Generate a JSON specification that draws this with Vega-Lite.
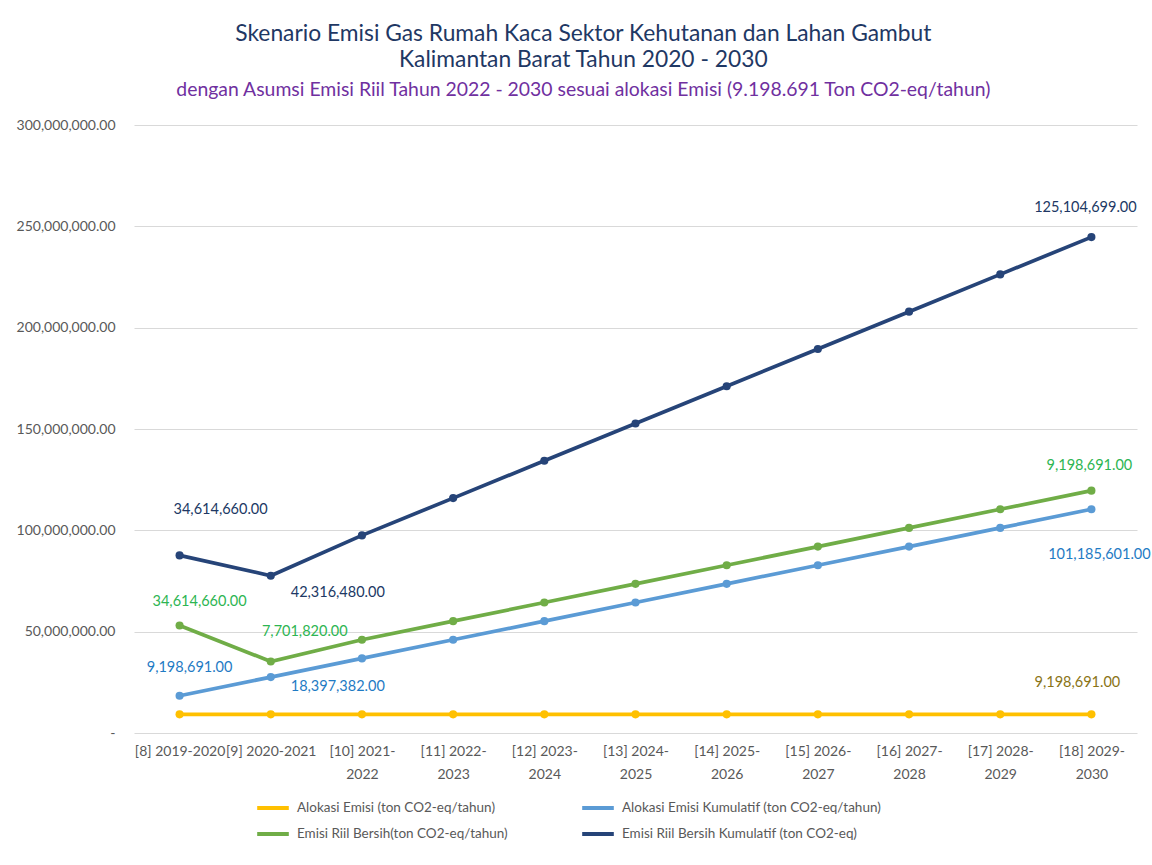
{
  "$schema": "https://vega.github.io/schema/vega-lite/v6.json",
  "width": 1003,
  "height": 608,
  "padding": {"left": 16, "top": 22, "right": 14, "bottom": 10},
  "background": "white",
  "title": {
    "text": ["Skenario Emisi Gas Rumah Kaca Sektor Kehutanan dan Lahan Gambut", "Kalimantan Barat Tahun 2020 - 2030"],
    "subtitle": "dengan Asumsi Emisi Riil Tahun 2022 - 2030 sesuai alokasi Emisi (9.198.691 Ton CO2-eq/tahun)",
    "font": "Lato",
    "fontSize": 22.8,
    "fontWeight": "normal",
    "color": "#1F3864",
    "lineHeight": 26,
    "subtitleFont": "Lato",
    "subtitleFontSize": 19.4,
    "subtitleColor": "#7030A0",
    "subtitlePadding": 9,
    "anchor": "middle",
    "frame": "bounds",
    "offset": 19
  },
  "config": {
    "view": {"stroke": null},
    "font": "Lato",
    "axis": {"labelFont": "Lato", "labelColor": "#595959", "labelFontSize": 14, "ticks": false, "domain": false, "title": null},
    "legend": {"labelFont": "Lato", "labelColor": "#595959", "labelFontSize": 13.5}
  },
  "data": {
    "values": [
      {"p": "[8] 2019-2020", "s": "Alokasi Emisi (ton CO2-eq/tahun)", "v": 9198691},
      {"p": "[9] 2020-2021", "s": "Alokasi Emisi (ton CO2-eq/tahun)", "v": 9198691},
      {"p": "[10] 2021-2022", "s": "Alokasi Emisi (ton CO2-eq/tahun)", "v": 9198691},
      {"p": "[11] 2022-2023", "s": "Alokasi Emisi (ton CO2-eq/tahun)", "v": 9198691},
      {"p": "[12] 2023-2024", "s": "Alokasi Emisi (ton CO2-eq/tahun)", "v": 9198691},
      {"p": "[13] 2024-2025", "s": "Alokasi Emisi (ton CO2-eq/tahun)", "v": 9198691},
      {"p": "[14] 2025-2026", "s": "Alokasi Emisi (ton CO2-eq/tahun)", "v": 9198691},
      {"p": "[15] 2026-2027", "s": "Alokasi Emisi (ton CO2-eq/tahun)", "v": 9198691},
      {"p": "[16] 2027-2028", "s": "Alokasi Emisi (ton CO2-eq/tahun)", "v": 9198691},
      {"p": "[17] 2028-2029", "s": "Alokasi Emisi (ton CO2-eq/tahun)", "v": 9198691},
      {"p": "[18] 2029-2030", "s": "Alokasi Emisi (ton CO2-eq/tahun)", "v": 9198691, "r": 9198691},
      {"p": "[8] 2019-2020", "s": "Alokasi Emisi Kumulatif (ton CO2-eq/tahun)", "v": 18397382, "r": 9198691},
      {"p": "[9] 2020-2021", "s": "Alokasi Emisi Kumulatif (ton CO2-eq/tahun)", "v": 27596073, "r": 18397382},
      {"p": "[10] 2021-2022", "s": "Alokasi Emisi Kumulatif (ton CO2-eq/tahun)", "v": 36794764},
      {"p": "[11] 2022-2023", "s": "Alokasi Emisi Kumulatif (ton CO2-eq/tahun)", "v": 45993455},
      {"p": "[12] 2023-2024", "s": "Alokasi Emisi Kumulatif (ton CO2-eq/tahun)", "v": 55192146},
      {"p": "[13] 2024-2025", "s": "Alokasi Emisi Kumulatif (ton CO2-eq/tahun)", "v": 64390837},
      {"p": "[14] 2025-2026", "s": "Alokasi Emisi Kumulatif (ton CO2-eq/tahun)", "v": 73589528},
      {"p": "[15] 2026-2027", "s": "Alokasi Emisi Kumulatif (ton CO2-eq/tahun)", "v": 82788219},
      {"p": "[16] 2027-2028", "s": "Alokasi Emisi Kumulatif (ton CO2-eq/tahun)", "v": 91986910},
      {"p": "[17] 2028-2029", "s": "Alokasi Emisi Kumulatif (ton CO2-eq/tahun)", "v": 101185601},
      {"p": "[18] 2029-2030", "s": "Alokasi Emisi Kumulatif (ton CO2-eq/tahun)", "v": 110384292, "r": 101185601},
      {"p": "[8] 2019-2020", "s": "Emisi Riil Bersih(ton CO2-eq/tahun)", "v": 53012042, "r": 34614660},
      {"p": "[9] 2020-2021", "s": "Emisi Riil Bersih(ton CO2-eq/tahun)", "v": 35297893, "r": 7701820},
      {"p": "[10] 2021-2022", "s": "Emisi Riil Bersih(ton CO2-eq/tahun)", "v": 45993455},
      {"p": "[11] 2022-2023", "s": "Emisi Riil Bersih(ton CO2-eq/tahun)", "v": 55192146},
      {"p": "[12] 2023-2024", "s": "Emisi Riil Bersih(ton CO2-eq/tahun)", "v": 64390837},
      {"p": "[13] 2024-2025", "s": "Emisi Riil Bersih(ton CO2-eq/tahun)", "v": 73589528},
      {"p": "[14] 2025-2026", "s": "Emisi Riil Bersih(ton CO2-eq/tahun)", "v": 82788219},
      {"p": "[15] 2026-2027", "s": "Emisi Riil Bersih(ton CO2-eq/tahun)", "v": 91986910},
      {"p": "[16] 2027-2028", "s": "Emisi Riil Bersih(ton CO2-eq/tahun)", "v": 101185601},
      {"p": "[17] 2028-2029", "s": "Emisi Riil Bersih(ton CO2-eq/tahun)", "v": 110384292},
      {"p": "[18] 2029-2030", "s": "Emisi Riil Bersih(ton CO2-eq/tahun)", "v": 119582983, "r": 9198691},
      {"p": "[8] 2019-2020", "s": "Emisi Riil Bersih Kumulatif (ton CO2-eq)", "v": 87626702, "r": 34614660},
      {"p": "[9] 2020-2021", "s": "Emisi Riil Bersih Kumulatif (ton CO2-eq)", "v": 77614373, "r": 42316480},
      {"p": "[10] 2021-2022", "s": "Emisi Riil Bersih Kumulatif (ton CO2-eq)", "v": 97508626},
      {"p": "[11] 2022-2023", "s": "Emisi Riil Bersih Kumulatif (ton CO2-eq)", "v": 115906008},
      {"p": "[12] 2023-2024", "s": "Emisi Riil Bersih Kumulatif (ton CO2-eq)", "v": 134303390},
      {"p": "[13] 2024-2025", "s": "Emisi Riil Bersih Kumulatif (ton CO2-eq)", "v": 152700772},
      {"p": "[14] 2025-2026", "s": "Emisi Riil Bersih Kumulatif (ton CO2-eq)", "v": 171098154},
      {"p": "[15] 2026-2027", "s": "Emisi Riil Bersih Kumulatif (ton CO2-eq)", "v": 189495536},
      {"p": "[16] 2027-2028", "s": "Emisi Riil Bersih Kumulatif (ton CO2-eq)", "v": 207892918},
      {"p": "[17] 2028-2029", "s": "Emisi Riil Bersih Kumulatif (ton CO2-eq)", "v": 226290300},
      {"p": "[18] 2029-2030", "s": "Emisi Riil Bersih Kumulatif (ton CO2-eq)", "v": 244687682, "r": 125104699}
    ]
  },
  "encoding": {
    "x": {
      "field": "p",
      "type": "ordinal",
      "sort": null,
      "scale": {"padding": 0.5},
      "axis": {
        "labelAngle": 0,
        "labelPadding": 11,
        "labelBaseline": "top",
        "labelLineHeight": 23,
        "labelExpr": "(indexof(datum.value, '[8]') == 0 || indexof(datum.value, '[9]') == 0) ? datum.value : [slice(datum.value, 0, indexof(datum.value, '-') + 1), slice(datum.value, indexof(datum.value, '-') + 1)]"
      }
    },
    "y": {
      "field": "v",
      "type": "quantitative",
      "scale": {"domain": [0, 300000000]},
      "axis": {
        "values": [0, 50000000, 100000000, 150000000, 200000000, 250000000, 300000000],
        "labelPadding": 19,
        "gridColor": "#D9D9D9",
        "gridWidth": 1.2,
        "labelExpr": "datum.value == 0 ? '-     ' : format(datum.value, ',.2f')"
      }
    }
  },
  "layer": [
    {
      "mark": {"type": "line", "strokeWidth": 3.7},
      "encoding": {
        "color": {
          "field": "s",
          "type": "nominal",
          "scale": {
            "domain": ["Alokasi Emisi (ton CO2-eq/tahun)", "Alokasi Emisi Kumulatif (ton CO2-eq/tahun)", "Emisi Riil Bersih(ton CO2-eq/tahun)", "Emisi Riil Bersih Kumulatif (ton CO2-eq)"],
            "range": ["#FFC000", "#5B9BD5", "#70AD47", "#264478"]
          },
          "legend": {
            "title": null,
            "orient": "none",
            "legendX": 121,
            "legendY": 665,
            "direction": "horizontal",
            "columns": 2,
            "padding": 0,
            "symbolType": "stroke",
            "symbolStrokeWidth": 4,
            "symbolSize": 1000,
            "rowPadding": 0,
            "columnPadding": 66,
            "labelOffset": 6,
            "labelLimit": 400
          }
        }
      }
    },
    {
      "mark": {"type": "point", "filled": true, "size": 66, "opacity": 1},
      "encoding": {"color": {"field": "s", "type": "nominal"}}
    },
    {
      "transform": [{"filter": "datum.p == '[8] 2019-2020' && datum.s == 'Emisi Riil Bersih Kumulatif (ton CO2-eq)'"}],
      "mark": {"type": "text", "dx": 41, "dy": -45, "fontSize": 14.5, "color": "#203864"},
      "encoding": {"text": {"field": "r", "type": "quantitative", "format": ",.2f"}}
    },
    {
      "transform": [{"filter": "datum.p == '[9] 2020-2021' && datum.s == 'Emisi Riil Bersih Kumulatif (ton CO2-eq)'"}],
      "mark": {"type": "text", "dx": 67, "dy": 17, "fontSize": 14.5, "color": "#203864"},
      "encoding": {"text": {"field": "r", "type": "quantitative", "format": ",.2f"}}
    },
    {
      "transform": [{"filter": "datum.p == '[18] 2029-2030' && datum.s == 'Emisi Riil Bersih Kumulatif (ton CO2-eq)'"}],
      "mark": {"type": "text", "dx": -6, "dy": -29, "fontSize": 14.5, "color": "#203864"},
      "encoding": {"text": {"field": "r", "type": "quantitative", "format": ",.2f"}}
    },
    {
      "transform": [{"filter": "datum.p == '[8] 2019-2020' && datum.s == 'Emisi Riil Bersih(ton CO2-eq/tahun)'"}],
      "mark": {"type": "text", "dx": 20, "dy": -24, "fontSize": 14.5, "color": "#2DB552"},
      "encoding": {"text": {"field": "r", "type": "quantitative", "format": ",.2f"}}
    },
    {
      "transform": [{"filter": "datum.p == '[9] 2020-2021' && datum.s == 'Emisi Riil Bersih(ton CO2-eq/tahun)'"}],
      "mark": {"type": "text", "dx": 34, "dy": -29, "fontSize": 14.5, "color": "#2DB552"},
      "encoding": {"text": {"field": "r", "type": "quantitative", "format": ",.2f"}}
    },
    {
      "transform": [{"filter": "datum.p == '[18] 2029-2030' && datum.s == 'Emisi Riil Bersih(ton CO2-eq/tahun)'"}],
      "mark": {"type": "text", "dx": -2, "dy": -25, "fontSize": 14.5, "color": "#2DB552"},
      "encoding": {"text": {"field": "r", "type": "quantitative", "format": ",.2f"}}
    },
    {
      "transform": [{"filter": "datum.p == '[8] 2019-2020' && datum.s == 'Alokasi Emisi Kumulatif (ton CO2-eq/tahun)'"}],
      "mark": {"type": "text", "dx": 10, "dy": -28, "fontSize": 14.5, "color": "#1F7BC4"},
      "encoding": {"text": {"field": "r", "type": "quantitative", "format": ",.2f"}}
    },
    {
      "transform": [{"filter": "datum.p == '[9] 2020-2021' && datum.s == 'Alokasi Emisi Kumulatif (ton CO2-eq/tahun)'"}],
      "mark": {"type": "text", "dx": 67, "dy": 10, "fontSize": 14.5, "color": "#1F7BC4"},
      "encoding": {"text": {"field": "r", "type": "quantitative", "format": ",.2f"}}
    },
    {
      "transform": [{"filter": "datum.p == '[18] 2029-2030' && datum.s == 'Alokasi Emisi Kumulatif (ton CO2-eq/tahun)'"}],
      "mark": {"type": "text", "dx": 8, "dy": 46, "fontSize": 14.5, "color": "#1F7BC4"},
      "encoding": {"text": {"field": "r", "type": "quantitative", "format": ",.2f"}}
    },
    {
      "transform": [{"filter": "datum.p == '[18] 2029-2030' && datum.s == 'Alokasi Emisi (ton CO2-eq/tahun)'"}],
      "mark": {"type": "text", "dx": -14, "dy": -31, "fontSize": 14.5, "color": "#8A7416"},
      "encoding": {"text": {"field": "r", "type": "quantitative", "format": ",.2f"}}
    }
  ]
}
